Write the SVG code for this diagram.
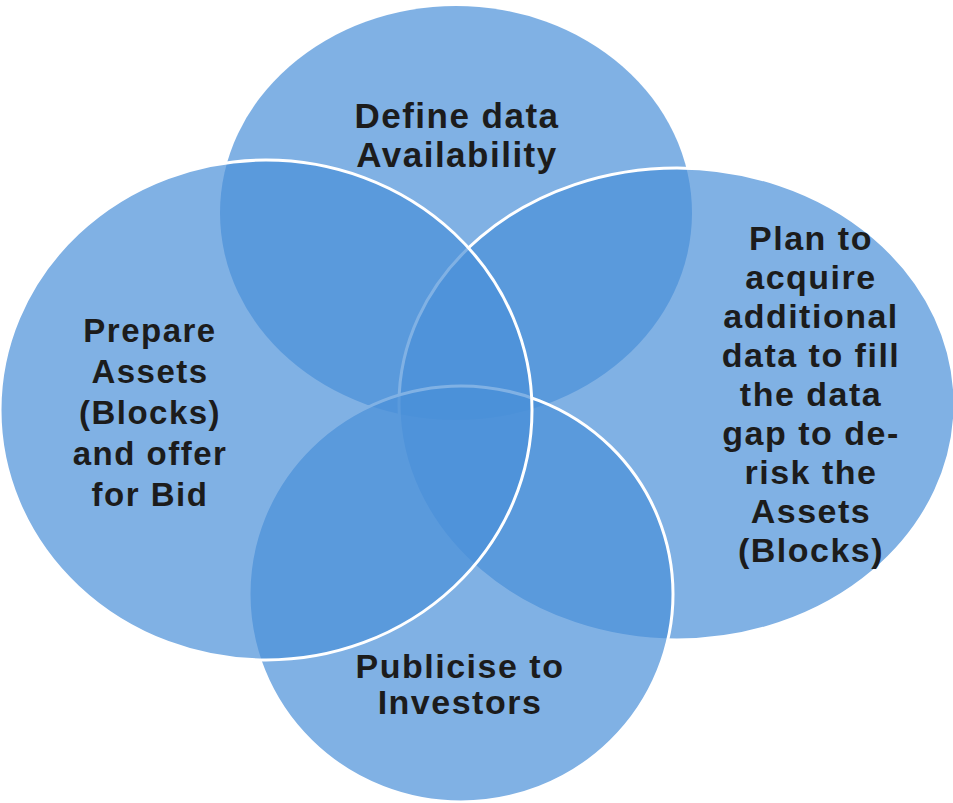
<svg xmlns="http://www.w3.org/2000/svg" width="953" height="803" viewBox="0 0 953 803">
<style>
.c{fill:#4a90d9;fill-opacity:0.7;stroke:#ffffff;stroke-width:3}
.t{font-family:"Liberation Sans",Arial,sans-serif;font-weight:bold;font-size:34px;fill:#1c1c1c;text-anchor:middle;letter-spacing:1.5px}
</style>
<rect width="953" height="803" fill="#ffffff"/>
<g id="node-define">
<ellipse class="c" cx="456" cy="213" rx="236" ry="207" style="stroke:none"/>
<text class="t" x="457" y="128" style="font-size:35px">Define data</text>
<text class="t" x="457" y="167" style="font-size:35px">Availability</text>
</g>
<g id="node-plan">
<ellipse class="c" cx="677" cy="404" rx="278" ry="236"/>
<text class="t" x="811" y="250">Plan to</text>
<text class="t" x="811" y="289">acquire</text>
<text class="t" x="811" y="328">additional</text>
<text class="t" x="811" y="367">data to fill</text>
<text class="t" x="811" y="406">the data</text>
<text class="t" x="811" y="445">gap to de-</text>
<text class="t" x="811" y="484">risk the</text>
<text class="t" x="811" y="523">Assets</text>
<text class="t" x="811" y="562">(Blocks)</text>
</g>
<g id="node-publicise">
<ellipse class="c" cx="461" cy="594" rx="212" ry="208"/>
<text class="t" x="460" y="678">Publicise to</text>
<text class="t" x="460" y="714">Investors</text>
</g>
<g id="node-prepare">
<ellipse class="c" cx="266" cy="410" rx="266" ry="250"/>
<text class="t" x="150" y="342" style="font-size:33px">Prepare</text>
<text class="t" x="150" y="383" style="font-size:33px">Assets</text>
<text class="t" x="150" y="424" style="font-size:33px">(Blocks)</text>
<text class="t" x="150" y="465" style="font-size:33px">and offer</text>
<text class="t" x="150" y="506" style="font-size:33px">for Bid</text>
</g>
</svg>
